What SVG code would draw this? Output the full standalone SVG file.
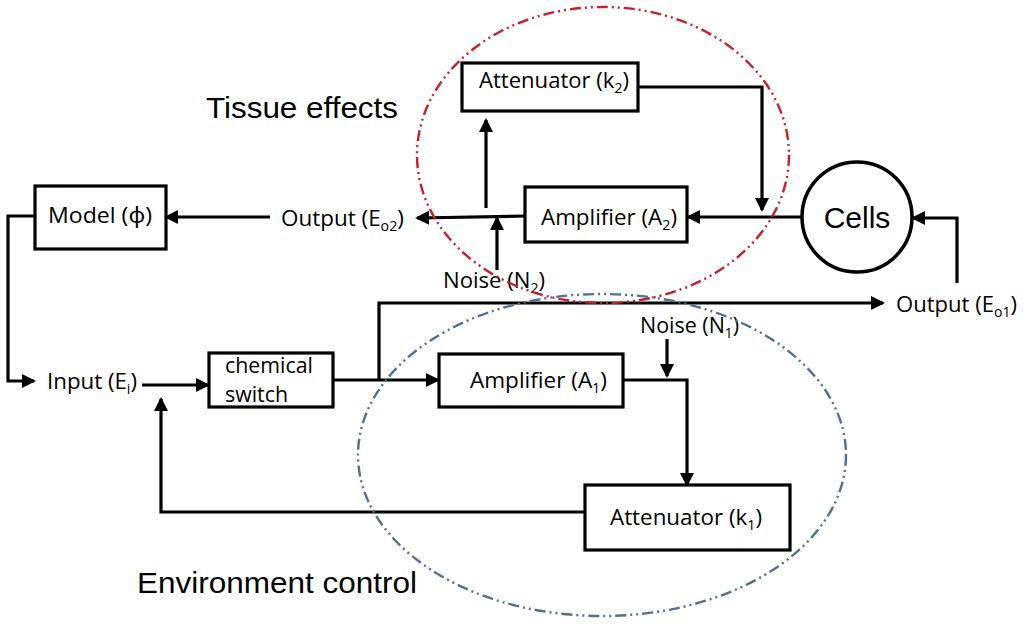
<svg xmlns="http://www.w3.org/2000/svg" width="1024" height="626" viewBox="0 0 1024 626">
<defs>
<style>
.box{fill:#fff;stroke:#000;stroke-width:3.2}
.ln{fill:none;stroke:#000;stroke-width:3.2}
.arr{marker-end:url(#ah)}
.t{font-family:"Open Sans","Noto Sans",sans-serif;font-size:22px;fill:#000}
.big{font-family:"Liberation Sans",Arial,sans-serif;font-size:30px;fill:#000}
.sub{font-size:14px}
.ell{fill:none;stroke-width:2.4;stroke-dasharray:11 4 2 4 2 4}
</style>
<marker id="ah" markerUnits="userSpaceOnUse" markerWidth="15" markerHeight="15" refX="12" refY="7" orient="auto">
<path d="M0,0 L14,7 L0,14 z" fill="#000"/>
</marker>
</defs>
<rect width="1024" height="626" fill="#fff"/>

<g id="connectors">
<path class="ln arr" d="M270,217 H166"/>
<path class="ln arr" d="M35,216 H8 V381 H34"/>
<path class="ln arr" d="M142,385 H208"/>
<path class="ln arr" d="M333,380 H438"/>
<path class="ln arr" d="M379,380 V303 H883"/>
<path class="ln arr" d="M623,380 H687 V485"/>
<path class="ln arr" d="M667,339 V376"/>
<path class="ln arr" d="M585,512 H161 V399"/>
<path class="ln arr" d="M801,217 H688"/>
<path class="ln arr" d="M638,87 H762 V210"/>
<path class="ln arr" d="M525,216 L417,218"/>
<path class="ln arr" d="M486,208 V120"/>
<path class="ln arr" d="M497,270 V218"/>
<path class="ln arr" d="M957,283 V218 H913"/>
</g>

<g id="model">
<rect class="box" x="35" y="186" width="131" height="63"/>
<text class="t" x="48" y="223" textLength="104" lengthAdjust="spacingAndGlyphs">Model (ϕ)</text>
</g>

<g id="output-eo2">
<text class="t" x="281" y="226" textLength="123" lengthAdjust="spacingAndGlyphs">Output (E<tspan class="sub" dy="5">o2</tspan><tspan dy="-5">)</tspan></text>
</g>

<g id="input">
<text class="t" x="47" y="389" textLength="90" lengthAdjust="spacingAndGlyphs">Input (E<tspan class="sub" dy="5">i</tspan><tspan dy="-5">)</tspan></text>
</g>

<g id="chemical-switch">
<rect class="box" x="209" y="353" width="124" height="54"/>
<text class="t" x="225" y="373" textLength="88" lengthAdjust="spacingAndGlyphs">chemical</text>
<text class="t" x="225" y="402" textLength="63" lengthAdjust="spacingAndGlyphs">switch</text>
</g>

<g id="amplifier-a1">
<rect class="box" x="439" y="354" width="184" height="53"/>
<text class="t" x="470" y="388" textLength="137" lengthAdjust="spacingAndGlyphs">Amplifier (A<tspan class="sub" dy="5">1</tspan><tspan dy="-5">)</tspan></text>
</g>

<g id="noise-n1">
<text class="t" x="640" y="333" textLength="99" lengthAdjust="spacingAndGlyphs">Noise (N<tspan class="sub" dy="5">1</tspan><tspan dy="-5">)</tspan></text>
</g>

<g id="attenuator-k1">
<rect class="box" x="585" y="485" width="205" height="65"/>
<text class="t" x="610" y="525" textLength="152" lengthAdjust="spacingAndGlyphs">Attenuator (k<tspan class="sub" dy="5">1</tspan><tspan dy="-5">)</tspan></text>
</g>

<g id="output-eo1">
<text class="t" x="896" y="312" textLength="121" lengthAdjust="spacingAndGlyphs">Output (E<tspan class="sub" dy="5">o1</tspan><tspan dy="-5">)</tspan></text>
</g>

<g id="attenuator-k2">
<rect class="box" x="462" y="63" width="176" height="48"/>
<text class="t" x="479" y="88" textLength="150" lengthAdjust="spacingAndGlyphs">Attenuator (k<tspan class="sub" dy="5">2</tspan><tspan dy="-5">)</tspan></text>
</g>

<g id="amplifier-a2">
<rect class="box" x="525" y="187" width="162" height="55"/>
<text class="t" x="541" y="225" textLength="136" lengthAdjust="spacingAndGlyphs">Amplifier (A<tspan class="sub" dy="5">2</tspan><tspan dy="-5">)</tspan></text>
</g>

<g id="noise-n2">
<text class="t" x="443" y="288" textLength="102" lengthAdjust="spacingAndGlyphs">Noise (N<tspan class="sub" dy="5">2</tspan><tspan dy="-5">)</tspan></text>
</g>

<g id="cells">
<circle cx="857" cy="217" r="55" fill="#fff" stroke="#000" stroke-width="3.5"/>
<text class="big" x="857" y="228" font-size="28" text-anchor="middle">Cells</text>
</g>

<g id="tissue-effects">
<ellipse class="ell" cx="603" cy="155" rx="186" ry="148" stroke="#c8202a"/>
<text class="big" x="206" y="118" textLength="192" lengthAdjust="spacingAndGlyphs">Tissue effects</text>
</g>

<g id="environment-control">
<ellipse class="ell" cx="602" cy="455" rx="244" ry="161" stroke="#4f6f94"/>
<text class="big" x="137" y="593" textLength="280" lengthAdjust="spacingAndGlyphs">Environment control</text>
</g>
</svg>
